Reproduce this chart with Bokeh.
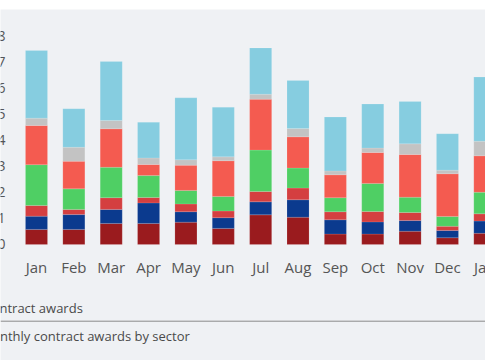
from bokeh.plotting import figure
from bokeh.models import ColumnDataSource, Range1d, Span, Label
from bokeh.core.properties import value
from bokeh.embed import file_html
from bokeh.resources import INLINE

months = ["Jan", "Feb", "Mar", "Apr", "May", "Jun", "Jul", "Aug", "Sep", "Oct", "Nov", "Dec", "Jan"]
dark_red = [0.58, 0.58, 0.81, 0.81, 0.86, 0.62, 1.14, 1.05, 0.40, 0.40, 0.51, 0.26, 0.43]
navy = [0.51, 0.57, 0.54, 0.79, 0.40, 0.41, 0.50, 0.67, 0.55, 0.47, 0.41, 0.28, 0.47]
red = [0.41, 0.20, 0.45, 0.21, 0.30, 0.26, 0.40, 0.45, 0.31, 0.40, 0.31, 0.16, 0.28]
green = [1.57, 0.79, 1.17, 0.84, 0.52, 0.56, 1.59, 0.77, 0.54, 1.08, 0.59, 0.38, 0.83]
coral = [1.51, 1.06, 1.48, 0.43, 0.97, 1.37, 1.96, 1.20, 0.88, 1.19, 1.64, 1.64, 1.40]
grey = [0.28, 0.54, 0.32, 0.25, 0.21, 0.15, 0.19, 0.32, 0.15, 0.17, 0.41, 0.14, 0.56]
light_blue = [2.60, 1.48, 2.27, 1.37, 2.38, 1.91, 1.78, 1.85, 2.07, 1.69, 1.63, 1.40, 2.47]
y_ticks = [0, 1, 2, 3, 4, 5, 6, 7, 8]

series = ["dark_red", "navy", "red", "green", "coral", "grey", "light_blue"]
colors = ["#9a1b1e", "#0b3a8e", "#d43f40", "#4fcf64", "#f45b50", "#c3c3c3", "#86cde0"]

title_text = "Contract awards"
subtitle_text = "Monthly contract awards by sector"

BG = "#eff1f4"

src = ColumnDataSource(dict(
    x=list(range(len(months))), month=months,
    dark_red=dark_red, navy=navy, red=red, green=green,
    coral=coral, grey=grey, light_blue=light_blue,
    label_y=[-0.85] * len(months),
))
tick_src = ColumnDataSource(dict(
    y=y_ticks, label=[str(t) for t in y_ticks], x=[-0.83] * len(y_ticks),
))

p = figure(width=485, height=360, output_backend="svg", toolbar_location=None,
           x_range=Range1d(-0.9636, 12.018), y_range=Range1d(-4.4615, 9.038),
           x_axis_type=None, y_axis_type=None,
           min_border_left=0, min_border_right=0, min_border_bottom=0, min_border_top=9)
p.background_fill_color = BG
p.border_fill_color = "white"
p.outline_line_color = None
p.grid.visible = False

p.vbar_stack(series, x="x", width=0.59, source=src, color=colors,
             line_color="white", line_alpha=0.25, line_width=0.5)

p.text(x="x", y="label_y", text="month", source=src,
       text_align="center", text_baseline="middle",
       text_font=value("Open Sans"), text_font_size="15px", text_color="#555555")

p.text(x="x", y="y", text="label", source=tick_src,
       text_align="right", text_baseline="middle",
       text_font=value("Open Sans"), text_font_size="14px", text_color="#555555")

p.add_layout(Span(location=-2.95, dimension="width", line_color="#8a8a8a", line_width=1))

p.add_layout(Label(x=-1.42, y=-2.46, text=title_text, text_baseline="middle",
                   text_font="Open Sans", text_font_size="13px", text_color="#4a4a4a"))
p.add_layout(Label(x=-1.50, y=-3.50, text=subtitle_text, text_baseline="middle",
                   text_font="Open Sans", text_font_size="13px", text_color="#4a4a4a"))

open("out.html", "w").write(file_html(p, INLINE))
